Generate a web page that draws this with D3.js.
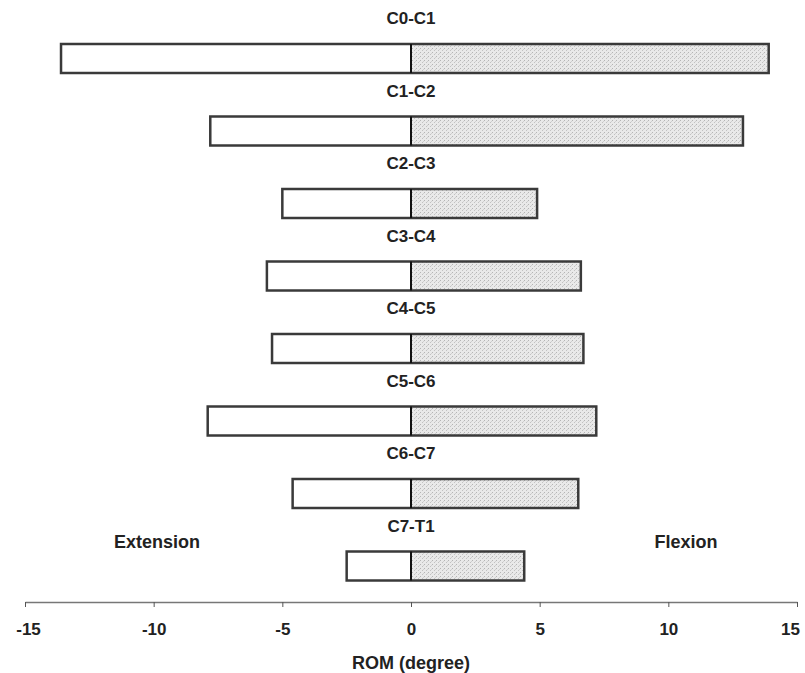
<!DOCTYPE html>
<html>
  <head>
    <meta charset="UTF-8">
    <style>
      body {
        margin: 0;
        background: #fff;
        font-family: Arial, "Liberation Sans", Helvetica, sans-serif;
      }

      .seg-label {
        font-size: 17px;
        font-weight: bold;
        fill: #222;
      }

      .side-label {
        font-size: 18px;
        font-weight: bold;
        fill: #222;
      }

      .axis-title {
        font-size: 18px;
        font-weight: bold;
        fill: #222;
      }

      .tick text {
        font-size: 17px;
        font-weight: bold;
        fill: #222;
      }
    </style>
    <script src="https://d3js.org/d3.v7.min.js"></script>
  </head>

  <body>
    <svg id="rom-chart"></svg>

    <script type="text/javascript">
      // range of motion per spinal segment, in degrees
      let segments = ['C0-C1', 'C1-C2', 'C2-C3', 'C3-C4', 'C4-C5', 'C5-C6', 'C6-C7', 'C7-T1']
      let extension = [-13.6, -7.8, -5.0, -5.6, -5.4, -7.9, -4.6, -2.5]
      let flexion = [13.9, 12.9, 4.9, 6.6, 6.7, 7.2, 6.5, 4.4]
      let tickValues = [-15, -10, -5, 0, 5, 10, 15]

      let width = 805
      let height = 673
      let axisY = 602
      let barHeight = 29

      let svg = d3.select('#rom-chart')
        .attr('width', width)
        .attr('height', height)

      // stippled grey fill for the flexion side
      let defs = svg.append('defs')
      let pattern = defs.append('pattern')
        .attr('id', 'stipple')
        .attr('width', 4)
        .attr('height', 4)
        .attr('patternUnits', 'userSpaceOnUse')
      pattern.append('rect')
        .attr('width', 4)
        .attr('height', 4)
        .attr('fill', '#e9e9e9')
      pattern.append('rect').attr('x', 0).attr('y', 0).attr('width', 1).attr('height', 1).attr('fill', '#b5b5b5')
      pattern.append('rect').attr('x', 2).attr('y', 2).attr('width', 1).attr('height', 1).attr('fill', '#c2c2c2')
      pattern.append('rect').attr('x', 3).attr('y', 1).attr('width', 1).attr('height', 1).attr('fill', '#d0d0d0')

      let x = d3.scaleLinear()
        .domain([-15, 15])
        .range([25, 797])

      let y = d3.scalePoint()
        .domain(segments)
        .range([58.5, 566])

      let rows = segments.map((s, i) => ({seg: s, ext: extension[i], flex: flexion[i]}))

      let bars = svg.append('g')
        .selectAll('g')
        .data(rows)
        .join('g')

      bars.append('rect')
        .attr('x', d => x(0))
        .attr('y', d => y(d.seg) - barHeight / 2)
        .attr('width', d => x(d.flex) - x(0))
        .attr('height', barHeight)
        .attr('fill', 'url(#stipple)')

      bars.append('rect')
        .attr('x', d => x(d.ext))
        .attr('y', d => y(d.seg) - barHeight / 2)
        .attr('width', d => x(d.flex) - x(d.ext))
        .attr('height', barHeight)
        .attr('fill', 'none')
        .attr('stroke', '#3a3a3a')
        .attr('stroke-width', 2.5)

      bars.append('line')
        .attr('x1', x(0))
        .attr('x2', x(0))
        .attr('y1', d => y(d.seg) - barHeight / 2)
        .attr('y2', d => y(d.seg) + barHeight / 2)
        .attr('stroke', '#111')
        .attr('stroke-width', 2)

      bars.append('text')
        .attr('class', 'seg-label')
        .attr('x', x(0))
        .attr('y', d => y(d.seg) - barHeight / 2 - 20)
        .attr('text-anchor', 'middle')
        .text(d => d.seg)

      svg.append('text')
        .attr('class', 'side-label')
        .attr('x', 157)
        .attr('y', 548)
        .attr('text-anchor', 'middle')
        .text('Extension')

      svg.append('text')
        .attr('class', 'side-label')
        .attr('x', 686)
        .attr('y', 548)
        .attr('text-anchor', 'middle')
        .text('Flexion')

      let axis = svg.append('g')
        .attr('transform', `translate(0, ${axisY})`)
        .call(d3.axisBottom(x)
          .tickValues(tickValues)
          .tickFormat(d => d)
          .tickSize(5)
          .tickSizeOuter(0)
          .tickPadding(16))

      axis.select('.domain')
        .attr('stroke', '#777')
        .attr('stroke-width', 1.5)
      axis.selectAll('.tick line')
        .attr('stroke', '#555')
      // keep the outermost labels inside the page
      axis.selectAll('.tick text')
        .attr('dx', d => d === 15 ? -7 : (d === -15 ? 3 : 0))

      svg.append('text')
        .attr('class', 'axis-title')
        .attr('x', x(0))
        .attr('y', 669)
        .attr('text-anchor', 'middle')
        .text('ROM (degree)')
    </script>
  </body>
</html>
